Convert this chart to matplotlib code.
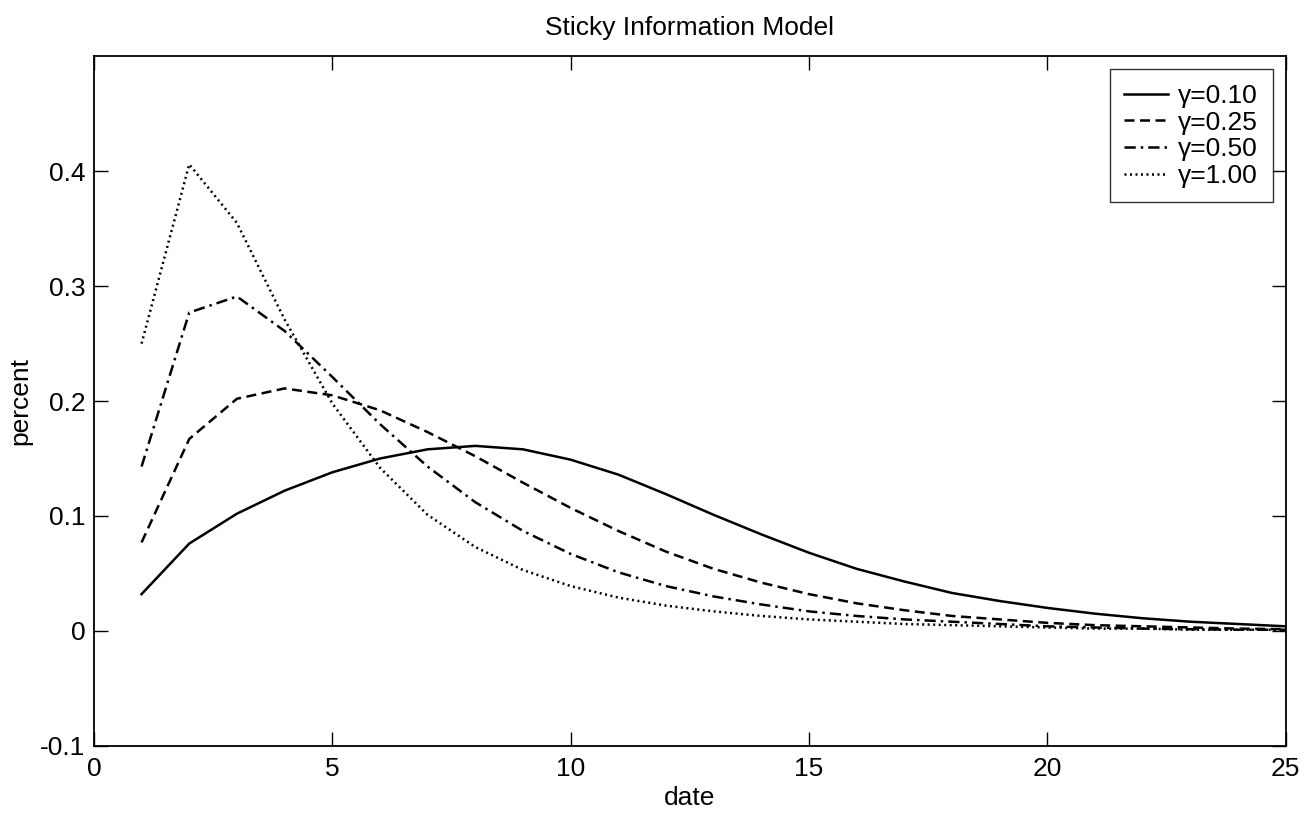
import matplotlib
matplotlib.use("Agg")
import matplotlib.pyplot as plt

plt.rcParams['font.family'] = ['Liberation Sans', 'DejaVu Sans']

dates = list(range(1, 26))

gamma_010 = [0.032, 0.076, 0.102, 0.122, 0.138, 0.150, 0.158, 0.161, 0.158, 0.149,
             0.136, 0.119, 0.101, 0.084, 0.068, 0.054, 0.043, 0.033, 0.026, 0.020,
             0.015, 0.011, 0.008, 0.006, 0.004]
gamma_025 = [0.077, 0.167, 0.202, 0.211, 0.205, 0.192, 0.173, 0.152, 0.129, 0.107,
             0.087, 0.069, 0.054, 0.042, 0.032, 0.024, 0.018, 0.013, 0.010, 0.007,
             0.005, 0.004, 0.003, 0.002, 0.0015]
gamma_050 = [0.143, 0.277, 0.291, 0.261, 0.221, 0.180, 0.143, 0.112, 0.087, 0.067,
             0.051, 0.039, 0.030, 0.023, 0.017, 0.013, 0.010, 0.008, 0.006, 0.004,
             0.003, 0.002, 0.0015, 0.001, 0.001]
gamma_100 = [0.250, 0.406, 0.355, 0.271, 0.198, 0.142, 0.101, 0.073, 0.053, 0.039,
             0.029, 0.022, 0.017, 0.013, 0.010, 0.008, 0.006, 0.005, 0.004, 0.003,
             0.002, 0.002, 0.001, 0.001, 0.001]

labels = ["γ=0.10", "γ=0.25", "γ=0.50", "γ=1.00"]
yticks = [-0.1, 0, 0.1, 0.2, 0.3, 0.4]
ytick_labels = ["-0.1", "0", "0.1", "0.2", "0.3", "0.4"]
xticks = [0, 5, 10, 15, 20, 25]

fig = plt.figure(figsize=(13.04, 8.16), dpi=100)
ax = fig.add_axes([0.072, 0.086, 0.914, 0.845])

lw = 1.8
ax.plot(dates, gamma_010, color='black', lw=lw, ls='-', label=labels[0])
ax.plot(dates, gamma_025, color='black', lw=lw, ls=(0, (4, 2.2)), label=labels[1])
ax.plot(dates, gamma_050, color='black', lw=lw, ls=(0, (4.5, 2, 1, 2)), label=labels[2])
ax.plot(dates, gamma_100, color='black', lw=lw, ls=(0, (0.8, 1.4)), label=labels[3])

ax.set_xlim(0, 25)
ax.set_ylim(-0.1, 0.5)
ax.set_xticks(xticks)
ax.set_xticklabels([str(t) for t in xticks])
ax.set_yticks(yticks)
ax.set_yticklabels(ytick_labels)
ax.tick_params(direction='in', top=True, right=True, length=10, width=1.0, labelsize=19)
ax.tick_params(axis='x', pad=8)
ax.tick_params(axis='y', pad=6)
for s in ax.spines.values():
  s.set_linewidth(1.3)

ax.set_xlabel("date", fontsize=19, labelpad=4)
ax.set_ylabel("percent", fontsize=19, labelpad=6)
ax.set_title("Sticky Information Model", fontsize=19, pad=15)

leg = ax.legend(loc='upper right', fontsize=19, frameon=True, fancybox=False,
                edgecolor='black', handlelength=1.65, handletextpad=0.4,
                labelspacing=0.1, borderaxespad=0.5, borderpad=0.55)
leg.get_frame().set_linewidth(1.0)

fig.savefig("out.png", dpi=100)
